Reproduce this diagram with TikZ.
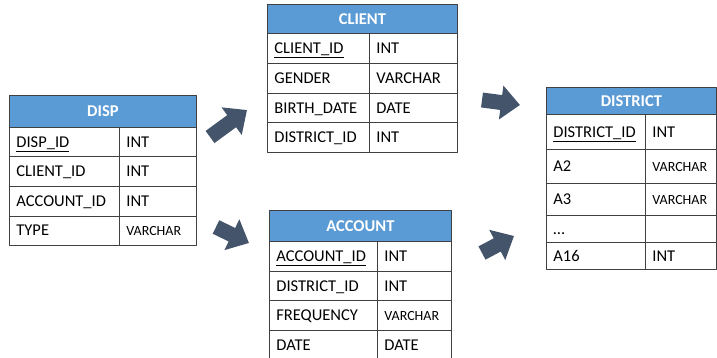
\documentclass[tikz,border=0pt]{standalone}
\usepackage{fontspec}
\setmainfont{Carlito}
\usetikzlibrary{arrows.meta}
\definecolor{hdrblue}{HTML}{5B9BD5}
\definecolor{linegray}{HTML}{404040}
\definecolor{arrowslate}{HTML}{44546A}
\newcommand{\pk}[1]{\underline{#1}}
\newcommand{\sm}{\fontsize{14}{17}\selectfont}
\tikzset{
  every picture/.style={line join=round, >=Stealth},
  tbl/.style={draw=linegray, line width=0.8pt, anchor=north west, inner sep=0pt},
  head/.style={tbl, fill=hdrblue, text=white, font=\fontsize{16.5}{19}\selectfont\bfseries},
  cell/.style={tbl, inner xsep=7pt, align=left, text height=12pt, text depth=1.6pt,
    font=\fontsize{16.5}{19}\selectfont},
  blockarrow/.style={draw=arrowslate, line width=15pt, -{Triangle[length=19pt,width=33pt]}},
}

\begin{document}
\begin{tikzpicture}[x=1pt,y=-1pt]
\useasboundingbox (0,0) rectangle (717,358);
% DISP
\node[head, minimum width=187pt, minimum height=32pt] (disp) at (9,95) {DISP};
\foreach \k/\t [count=\i from 0] in {\pk{DISP\_ID}/INT, CLIENT\_ID/INT, ACCOUNT\_ID/INT, TYPE/\sm VARCHAR}{
  \node[cell, text width=96pt, minimum height=29.5pt] (disp-k\i) at (9,127+\i*29.5) {\k};
  \node[cell, text width=63pt, minimum height=29.5pt] (disp-t\i) at (119,127+\i*29.5) {\t};
}
% CLIENT
\node[head, minimum width=190pt, minimum height=29pt] (client) at (267,4) {CLIENT};
\foreach \k/\t [count=\i from 0] in {\pk{CLIENT\_ID}/INT, GENDER/VARCHAR, BIRTH\_DATE/DATE, DISTRICT\_ID/INT}{
  \node[cell, text width=88pt, minimum height=29.8pt] (client-k\i) at (267,33+\i*29.8) {\k};
  \node[cell, text width=74pt, minimum height=29.8pt] (client-t\i) at (369,33+\i*29.8) {\t};
}
% ACCOUNT
\node[head, minimum width=182pt, minimum height=31pt] (account) at (269,210) {ACCOUNT};
\foreach \k/\t [count=\i from 0] in {\pk{ACCOUNT\_ID}/INT, DISTRICT\_ID/INT, FREQUENCY/\sm VARCHAR, DATE/DATE}{
  \node[cell, text width=94pt, minimum height=29.7pt] (account-k\i) at (269,241+\i*29.7) {\k};
  \node[cell, text width=60pt, minimum height=29.7pt] (account-t\i) at (377,241+\i*29.7) {\t};
}
% DISTRICT
\node[head, minimum width=170pt, minimum height=27pt] (district) at (546,87) {DISTRICT};
\foreach \y/\h/\k/\t [count=\i] in {114/35/\pk{DISTRICT\_ID}/INT, 149/34/A2/\sm VARCHAR, 183/32/A3/\sm VARCHAR, 215/27/\ldots/{}, 242/27/A16/INT}{
  \node[cell, text width=85pt, minimum height=\h pt] (district-k\i) at (546,\y) {\k};
  \node[cell, text width=57pt, minimum height=\h pt] (district-t\i) at (645,\y) {\t};
}
% arrows
\coordinate (a1s) at (210,137); \coordinate (a1e) at (247,110);
\coordinate (a2s) at (216,227); \coordinate (a2e) at (249,243);
\coordinate (a3s) at (482,100); \coordinate (a3e) at (520,105);
\coordinate (a4s) at (482,253); \coordinate (a4e) at (514,236);
\draw[blockarrow] (a1s) -- (a1e);
\draw[blockarrow] (a2s) -- (a2e);
\draw[blockarrow] (a3s) -- (a3e);
\draw[blockarrow] (a4s) -- (a4e);
\end{tikzpicture}
\end{document}
